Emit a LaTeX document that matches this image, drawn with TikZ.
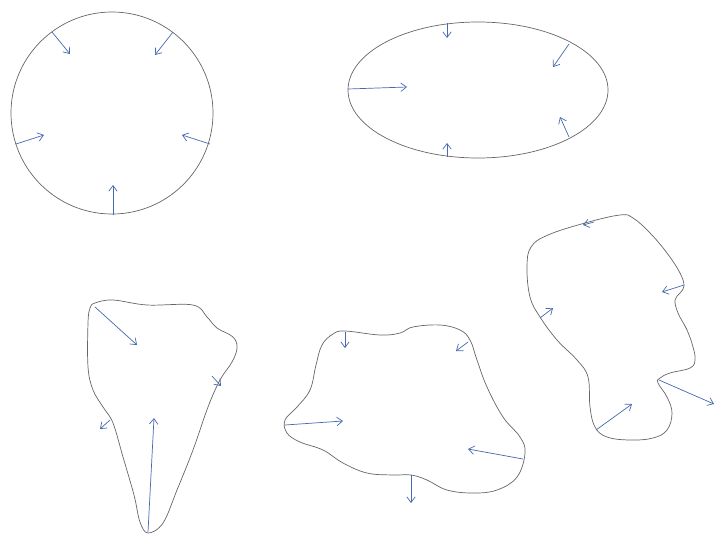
\documentclass[tikz,border=0pt]{standalone}
\usepackage{tikz}
\usetikzlibrary{arrows.meta}

\definecolor{normalblue}{RGB}{70,105,175}

\begin{document}
\begin{tikzpicture}[
    x=0.025cm, y=-0.025cm,
    outline/.style={draw=black!60, line width=0.5pt},
    normal/.style={-{Straight Barb[length=4pt,width=6pt]}, draw=normalblue, line width=0.5pt}
]
\useasboundingbox (0,0) rectangle (714,534);

% circle
\draw[outline] (112,113) circle[radius=101];
\draw[normal] (52,32) -- (70,54);
\draw[normal] (173,32) -- (155,55);
\draw[normal] (16,144) -- (44,135);
\draw[normal] (210,144) -- (182,135);
\draw[normal] (113,215) -- (113,185);

% ellipse
\draw[outline] (478,90) ellipse[x radius=130, y radius=68];
\draw[normal] (447,23) -- (447,38);
\draw[normal] (569,44) -- (553,67);
\draw[normal] (348,89) -- (407,87);
\draw[normal] (447,157) -- (447,143);
\draw[normal] (569,137) -- (560,117);

% blob, bottom left
\draw[outline] plot[smooth cycle, tension=0.6] coordinates {
    (95,303) (113,300) (147,305) (193,305) (207,317) (217,328) (233,337)
    (237,348) (232,362) (220,380) (208,407) (193,450) (177,490) (163,523)
    (148,533) (140,522) (134,495) (123,457) (113,423) (103,407) (93,390)
    (88,367) (88,323) (90,308)};
\draw[normal] (95,307) -- (137,345);
\draw[normal] (148,532) -- (154,418);
\draw[normal] (212,376) -- (221,386);
\draw[normal] (110,420) -- (100,429);

% blob, bottom middle
\draw[outline] plot[smooth cycle, tension=0.65] coordinates {
    (333,334) (345,331) (380,335) (400,333) (413,327) (440,325) (460,330)
    (470,340) (477,360) (487,387) (503,417) (520,437) (525,453) (517,477)
    (497,490) (473,493) (447,490) (427,480) (411,475) (393,475) (367,473)
    (343,463) (323,450) (300,442) (287,433) (285,420) (297,407) (310,390)
    (316,365) (322,345)};
\draw[normal] (345,332) -- (345,348);
\draw[normal] (468,342) -- (456,351);
\draw[normal] (285,425) -- (343,421);
\draw[normal] (523,459) -- (468,449);
\draw[normal] (411,475) -- (411,503);

% blob, right
\draw[outline] plot[smooth cycle, tension=0.65] coordinates {
    (585,223) (620,215) (633,218) (650,233) (667,253) (680,273) (684,286)
    (680,293) (675,300) (678,313) (687,330) (693,347) (695,360) (690,368)
    (670,373) (660,378) (658,383) (667,397) (672,413) (667,430) (653,438)
    (630,440) (607,437) (595,427) (590,407) (588,377) (577,360) (557,340)
    (540,317) (530,297) (527,267) (531,247) (548,235)};
\draw[normal] (594,222) -- (583,225);
\draw[normal] (684,285) -- (662,292);
\draw[normal] (540,318) -- (553,308);
\draw[normal] (596,430) -- (632,404);
\draw[normal] (659,380) -- (714,404);
\end{tikzpicture}
\end{document}
